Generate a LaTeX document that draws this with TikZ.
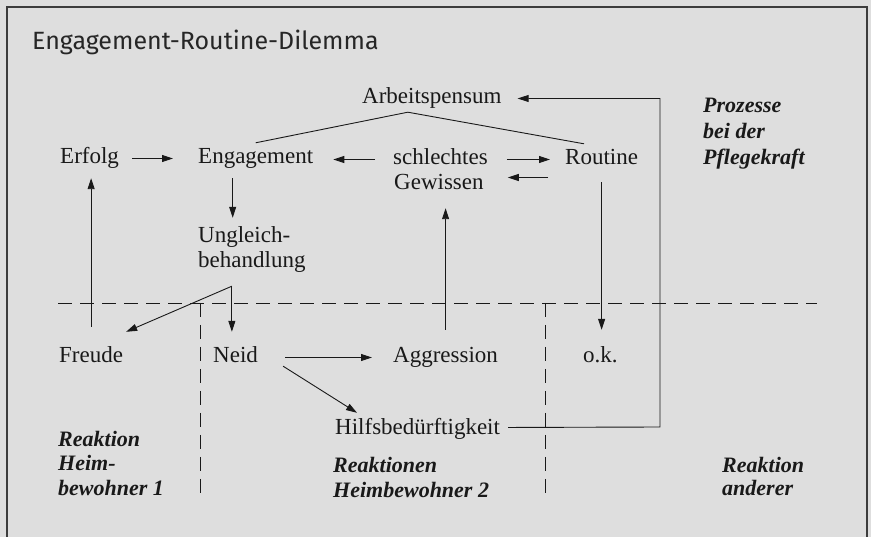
\documentclass[tikz,border=0pt]{standalone}
\usepackage{fontspec}
\setmainfont{Liberation Serif}
\newfontfamily\titlefont{Fira Sans}
\usetikzlibrary{arrows.meta,calc}
\definecolor{paper}{RGB}{222,222,222}
\definecolor{ink}{RGB}{25,25,25}
\definecolor{framec}{RGB}{60,60,60}
\begin{document}
\begin{tikzpicture}[x=1pt,y=-1pt,
  txt/.style={inner sep=0pt, text height=16pt, text depth=5pt, anchor=base west, font=\fontsize{23}{25}\selectfont, text=ink},
  lab/.style={inner sep=0pt, anchor=base west, font=\fontsize{22}{24}\selectfont\bfseries\itshape, text=ink},
  arr/.style={draw=ink, line width=0.9pt, -{Triangle[length=11pt,width=7pt]}},
  ln/.style={draw=ink, line width=0.9pt},
  sep/.style={draw=ink, line width=0.8pt, dash pattern=on 14pt off 8pt}]
\useasboundingbox (0,0) rectangle (871,537);
\fill[paper] (0,0) rectangle (871,537);
\draw[framec, line width=1.3pt] (7,538) -- (7,7) -- (867,7) -- (867,538);

% title
\node[anchor=base west, inner sep=0pt, font=\titlefont\fontsize{25}{28}\selectfont, text=black!85] (title) at (32,50) {Engagement-Routine-Dilemma};

% process nodes
\node[txt] (arb)   at (362,104) {Arbeitspensum};
\node[txt] (erf)   at (60,164)  {Erfolg};
\node[txt] (eng)   at (198,164) {Engagement};
\node[txt] (schl)  at (393,165) {schlechtes};
\node[txt] (gew)   at (394,190) {Gewissen};
\node[txt] (rout)  at (565,165) {Routine};
\node[txt] (ungl1) at (198,243) {Ungleich-};
\node[txt] (ungl2) at (198,268) {behandlung};
\node[txt] (freude) at (59,363) {Freude};
\node[txt] (neid)  at (213,363) {Neid};
\node[txt] (aggr)  at (393,363) {Aggression};
\node[txt] (ok)    at (583,363) {o.k.};
\node[txt] (hilf)  at (335,435) {Hilfsbedürftigkeit};

% italic labels
\node[lab] (p1) at (703,113) {Prozesse};
\node[lab] (p2) at (703,139) {bei der};
\node[lab] (p3) at (703,165) {Pflegekraft};
\node[lab] (a1) at (58,447) {Reaktion};
\node[lab] (a2) at (58,471) {Heim-};
\node[lab] (a3) at (58,495) {bewohner 1};
\node[lab] (b1) at (333,473) {Reaktionen};
\node[lab] (b2) at (333,497) {Heimbewohner 2};
\node[lab] (c1) at (722,473) {Reaktion};
\node[lab] (c2) at (722,495) {anderer};

% separators
\draw[sep] (58,303) -- (817,303);
\draw[sep] (200,303) -- (200,500);
\draw[sep] (545,303) -- (545,500);

% connectors
\draw[arr, shorten <=13pt, shorten >=25pt] (erf.east) -- (eng.west);
\draw[arr, shorten <=18pt, shorten >=20pt] (schl.west) -- (schl.west -| eng.east);
\draw[arr, shorten <=19pt, shorten >=15pt] (schl.east) -- (schl.east -| rout.west);
\coordinate (rg) at ([shift={(-17,18)}]rout.west);
\draw[arr, shorten >=24pt] (rg) -- (rg -| gew.east);

\coordinate (apex) at ([shift={(-24,3)}]arb.south);
\draw[ln] ([shift={(0,-5)}]eng.north) -- (apex) -- ([shift={(19,-5)}]rout.north west);

\coordinate (cr) at (660,427);
\draw[arr, shorten <=8pt, shorten >=16pt] ([shift={(0,-2)}]hilf.east) -- (cr) -- (cr |- arb.east) -- (arb.east);

\draw[arr, shorten <=12pt, shorten >=17pt] (rout.south) -- (rout.south |- ok.north);
\draw[arr, shorten <=17pt, shorten >=13pt] (aggr.north) -- (aggr.north |- gew.south);
\draw[arr, shorten <=20pt, shorten >=9pt] (freude.north) -- (freude.north |- erf.south);

\coordinate (eu) at ([shift={(-23,0)}]eng.south);
\draw[arr, shorten <=9pt, shorten >=9pt] (eu) -- (eu |- ungl1.north);

\coordinate (J) at ([shift={(-20,13)}]ungl2.south);
\draw[arr, shorten >=15pt] (J) -- (J |- neid.north);
\draw[arr] (J) -- ([shift={(35,-15)}]freude.north);

\draw[arr, shorten <=27pt, shorten >=21pt] (neid.east) -- (neid.east -| aggr.west);
\draw[arr] ([shift={(25,-2)}]neid.south east) -- ([shift={(22,-6)}]hilf.north west);
\end{tikzpicture}
\end{document}
